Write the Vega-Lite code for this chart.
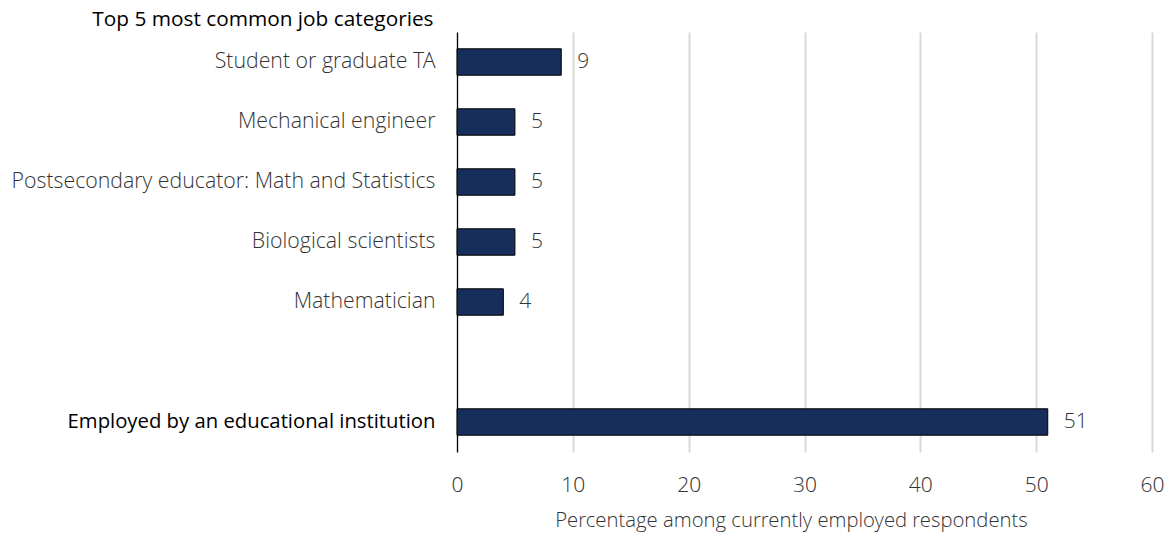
{
  "$schema": "https://vega.github.io/schema/vega-lite/v6.json",
  "width": 695,
  "height": 420,
  "autosize": {"type": "none"},
  "padding": {"left": 457, "top": 32, "right": 22, "bottom": 88},
  "background": "white",
  "config": {"view": {"stroke": null}, "font": "Open Sans"},
  "data": {
    "values": [
      {"category": "Student or graduate TA", "value": 9},
      {"category": "Mechanical engineer", "value": 5},
      {"category": "Postsecondary educator: Math and Statistics", "value": 5},
      {"category": "Biological scientists", "value": 5},
      {"category": "Mathematician", "value": 4},
      {"category": "Employed by an educational institution", "value": 51}
    ]
  },
  "encoding": {
    "y": {
      "field": "category",
      "type": "nominal",
      "scale": {
        "domain": ["Student or graduate TA", "Mechanical engineer", "Postsecondary educator: Math and Statistics", "Biological scientists", "Mathematician", "", "Employed by an educational institution"],
        "paddingInner": 0.56,
        "paddingOuter": 0.28
      },
      "axis": {
        "title": "Top 5 most common job categories",
        "titleAngle": 0,
        "titleAlign": "right",
        "titleBaseline": "middle",
        "titleX": -24,
        "titleY": -13,
        "titleFont": "Open Sans",
        "titleFontSize": 20.8,
        "titleFontWeight": 400,
        "titleColor": "#000000",
        "ticks": false,
        "labelPadding": 22,
        "labelFont": {"condition": {"test": "datum.value == 'Employed by an educational institution'", "value": "Open Sans"}, "value": "Open Sans Light, Open Sans"},
        "labelFontSize": {"condition": {"test": "datum.value == 'Employed by an educational institution'", "value": 20.3}, "value": 21.3},
        "labelFontWeight": {"condition": {"test": "datum.value == 'Employed by an educational institution'", "value": 400}, "value": 300},
        "labelColor": {"condition": {"test": "datum.value == 'Employed by an educational institution'", "value": "#000000"}, "value": "#333333"},
        "labelLimit": 600,
        "domainColor": "#000000",
        "domainWidth": 1.2,
        "grid": false
      }
    },
    "x": {
      "field": "value",
      "type": "quantitative",
      "scale": {"domain": [0, 60], "nice": false},
      "axis": {
        "title": "Percentage among currently employed respondents",
        "titleFont": "Open Sans Light, Open Sans",
        "titleFontSize": 20.3,
        "titleFontWeight": 300,
        "titleColor": "#333333",
        "titlePadding": 15,
        "titleX": 334,
        "values": [0, 10, 20, 30, 40, 50, 60],
        "labelFont": "Open Sans Light, Open Sans",
        "labelFontSize": 21,
        "labelFontWeight": 300,
        "labelColor": "#333333",
        "labelPadding": 22,
        "labelFlush": false,
        "ticks": false,
        "domain": false,
        "grid": true,
        "gridColor": "#d9d9d9",
        "gridWidth": 2
      }
    }
  },
  "layer": [
    {
      "mark": {"type": "bar", "color": "#182e5a", "stroke": "#000000", "strokeWidth": 1}
    },
    {
      "mark": {"type": "text", "align": "left", "baseline": "middle", "dx": 16, "font": "Open Sans Light, Open Sans", "fontSize": 21, "fontWeight": 300, "color": "#333333"},
      "encoding": {"text": {"field": "value", "type": "quantitative"}}
    }
  ]
}
